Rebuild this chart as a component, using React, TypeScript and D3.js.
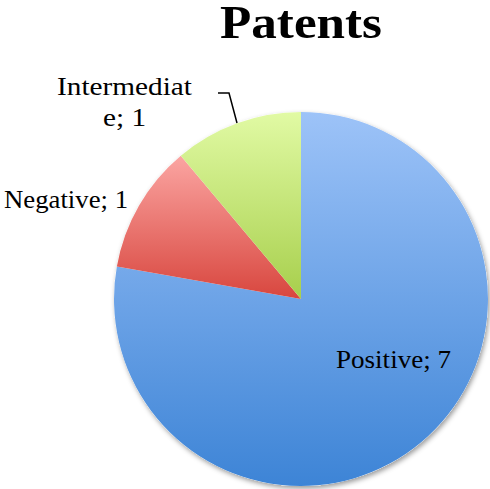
import React from "react";
import * as d3 from "d3";

const categories = ["Positive", "Negative", "Intermediate"];
const values = [7, 1, 1];
const labelLines = [["Positive; 7"], ["Negative; 1"], ["Intermediat", "e; 1"]];
const gradientStops = [
  ["#9dc3f8", "#3d84d6"],
  ["#fba5a2", "#d8463e"],
  ["#e1faa4", "#a7cf4c"],
];
const title = "Patents";

const W = 490;
const H = 489;
const cx = 301;
const cy = 299;
const R = 187;

export default function App() {
  const pie = d3
    .pie<number>()
    .sort(null)
    .startAngle(0)
    .endAngle(2 * Math.PI);
  const arcs = pie(values);
  const arcGen = d3.arc<d3.PieArcDatum<number>>().innerRadius(0).outerRadius(R);

  // label placement: centre x, first baseline y, width of each line
  const labelPos = [
    { x: 393.5, y: 368, widths: [115] },
    { x: 66, y: 208, widths: [124] },
    { x: 124.5, y: 95, widths: [135, 43] },
  ];

  return (
    <svg
      width={W}
      height={H}
      style={{ position: "absolute", left: 0, top: 0, background: "#fff" }}
      fontFamily="'Liberation Serif', 'DejaVu Serif', serif"
    >
      <defs>
        {gradientStops.map((s, i) => (
          <linearGradient key={i} id={`g${i}`} x1="0" y1="0" x2="0" y2="1">
            <stop offset="0%" stopColor={s[0]} />
            <stop offset="100%" stopColor={s[1]} />
          </linearGradient>
        ))}
        <filter id="shadow" x="-10%" y="-10%" width="120%" height="120%">
          <feDropShadow dx="1.5" dy="2.5" stdDeviation="2.5" floodColor="#000" floodOpacity="0.4" />
        </filter>
      </defs>
      <text
        x={301}
        y={38}
        textAnchor="middle"
        fontSize={46}
        fontWeight="bold"
        textLength={162}
        lengthAdjust="spacingAndGlyphs"
        fill="#000"
      >
        {title}
      </text>
      <g transform={`translate(${cx},${cy})`}>
        <circle r={R} fill="#fff" filter="url(#shadow)" />
        {arcs.map((a, i) => (
          <path key={categories[i]} d={arcGen(a) || ""} fill={`url(#g${i})`} />
        ))}
      </g>
      <polyline points="218,93 229,93 237,123" fill="none" stroke="#000" strokeWidth={1.5} />
      {labelLines.map((lines, i) =>
        lines.map((t, j) => (
          <text
            key={`${i}-${j}`}
            x={labelPos[i].x}
            y={labelPos[i].y + j * 31}
            textAnchor="middle"
            fontSize={25.5}
            textLength={labelPos[i].widths[j]}
            lengthAdjust="spacingAndGlyphs"
            fill="#000"
          >
            {t}
          </text>
        ))
      )}
    </svg>
  );
}
